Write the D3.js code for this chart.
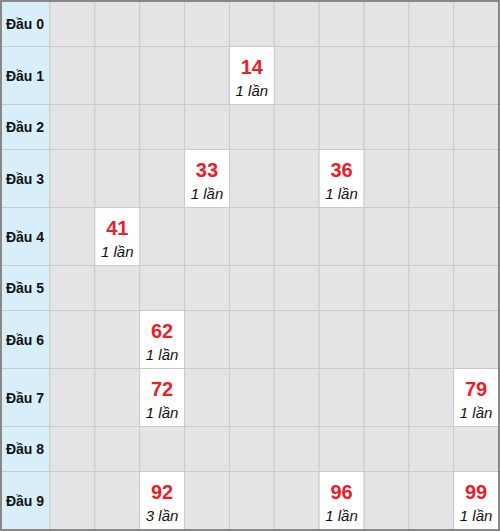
<!DOCTYPE html>
<meta charset="utf-8">
<script src="https://d3js.org/d3.v7.min.js"></script>
<style>
body{margin:0;font-family:'Liberation Sans',Arial,sans-serif;}
</style>
<div id="chart"></div>
<script>
var heads = ["Đầu 0","Đầu 1","Đầu 2","Đầu 3","Đầu 4","Đầu 5","Đầu 6","Đầu 7","Đầu 8","Đầu 9"]
var numbers = [14,33,36,41,62,72,79,92,96,99]
var counts = [1,1,1,1,1,1,1,3,1,1]

var W = 500, H = 531, pad = 1.5
var svg = d3.select("#chart").append("svg").attr("width",W).attr("height",H)

var rowHas = heads.map(function(h,i){ return numbers.some(function(n){ return Math.floor(n/10)==i }) })
var rowH = rowHas.map(function(h){ return h ? 58 : 45 })
var total = d3.sum(rowH)
var yScale = d3.scaleLinear().domain([0,total]).range([pad,H-pad])
var rowY = []
var acc = 0
rowH.forEach(function(h){ rowY.push(acc); acc += h })

var x = d3.scaleLinear().domain([0,10]).range([50,W-pad])

// header column
heads.forEach(function(h,i){
	var y0 = yScale(rowY[i]), y1 = yScale(rowY[i]+rowH[i])
	svg.append("rect").attr("x",pad).attr("y",y0).attr("width",50-pad).attr("height",y1-y0)
		.attr("fill","#d8eef8").attr("stroke","#c8c8c8")
	svg.append("text").text(h).attr("x",25).attr("y",(y0+y1)/2+5)
		.attr("text-anchor","middle").style("font-size","14px").style("font-weight","bold").attr("fill","#111")
	for(var c=0;c<10;c++){
		svg.append("rect").attr("x",x(c)).attr("y",y0).attr("width",x(c+1)-x(c)).attr("height",y1-y0)
			.attr("fill","#e4e4e6").attr("stroke","#cacaca")
	}
})

numbers.forEach(function(n,k){
	var r = Math.floor(n/10), c = n%10
	var y0 = yScale(rowY[r]), y1 = yScale(rowY[r]+rowH[r])
	svg.append("rect").attr("x",x(c)).attr("y",y0).attr("width",x(c+1)-x(c)).attr("height",y1-y0)
		.attr("fill","#fff").attr("stroke","#cacaca")
	var cx = (x(c)+x(c+1))/2
	svg.append("text").text(n).attr("x",cx).attr("y",y0+27).attr("text-anchor","middle")
		.style("font-size","20px").style("font-weight","bold").attr("fill","#e8202a")
	svg.append("text").text(counts[k]+" lần").attr("x",cx).attr("y",y0+49).attr("text-anchor","middle")
		.style("font-size","15px").style("font-style","italic").attr("fill","#111")
})

svg.append("rect").attr("x",1).attr("y",1).attr("width",W-2).attr("height",H-2)
	.attr("fill","none").attr("stroke","#888").attr("stroke-width",2)
</script>
